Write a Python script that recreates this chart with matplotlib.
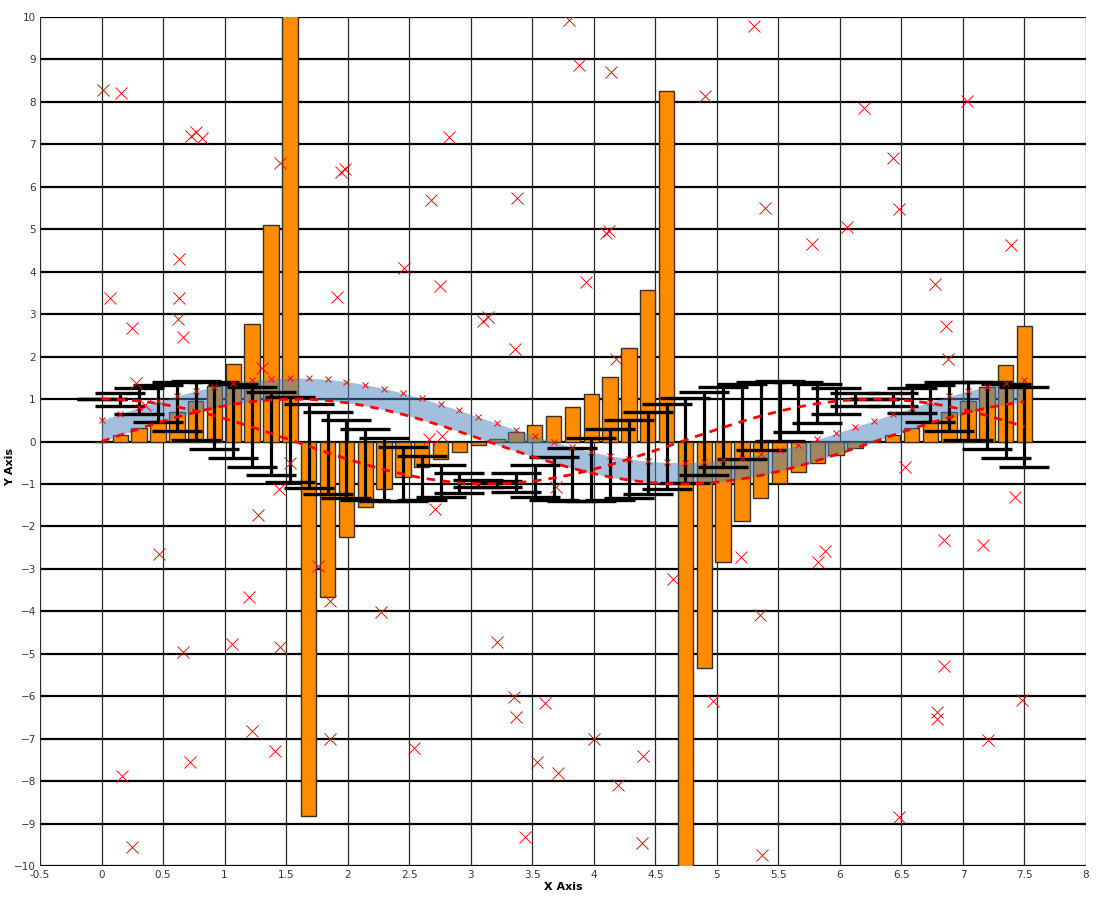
import matplotlib
matplotlib.use('Agg')
import matplotlib.pyplot as plt
import numpy as np

# sample positions (50 evenly spaced points from 0 to 7.5)
x_vals = [0.000, 0.153, 0.306, 0.459, 0.612, 0.765, 0.918, 1.071, 1.224, 1.378,
          1.531, 1.684, 1.837, 1.990, 2.143, 2.296, 2.449, 2.602, 2.755, 2.908,
          3.061, 3.214, 3.367, 3.520, 3.673, 3.827, 3.980, 4.133, 4.286, 4.439,
          4.592, 4.745, 4.898, 5.051, 5.204, 5.357, 5.510, 5.663, 5.816, 5.969,
          6.122, 6.276, 6.429, 6.582, 6.735, 6.888, 7.041, 7.194, 7.347, 7.500]

sin_vals = [0.000, 0.152, 0.301, 0.443, 0.575, 0.693, 0.795, 0.878, 0.940, 0.981,
            0.999, 0.994, 0.965, 0.913, 0.841, 0.748, 0.639, 0.514, 0.378, 0.231,
            0.080, -0.073, -0.224, -0.370, -0.507, -0.632, -0.744, -0.837, -0.910, -0.963,
            -0.993, -0.999, -0.983, -0.943, -0.882, -0.799, -0.698, -0.581, -0.450, -0.309,
            -0.160, -0.008, 0.145, 0.294, 0.436, 0.568, 0.687, 0.790, 0.874, 0.938]

cos_vals = [1.000, 0.988, 0.954, 0.896, 0.818, 0.721, 0.607, 0.479, 0.340, 0.192,
            0.040, -0.113, -0.263, -0.407, -0.541, -0.663, -0.769, -0.858, -0.926, -0.973,
            -0.997, -0.997, -0.975, -0.929, -0.862, -0.775, -0.669, -0.548, -0.414, -0.270,
            -0.120, 0.033, 0.185, 0.332, 0.472, 0.601, 0.716, 0.814, 0.893, 0.951,
            0.987, 1.000, 0.989, 0.956, 0.900, 0.823, 0.726, 0.613, 0.486, 0.347]

tan_vals = [0.00, 0.15, 0.32, 0.49, 0.70, 0.96, 1.31, 1.83, 2.76, 5.11,
            24.9, -8.82, -3.67, -2.25, -1.55, -1.13, -0.83, -0.60, -0.41, -0.24,
            -0.08, 0.07, 0.23, 0.40, 0.59, 0.82, 1.11, 1.53, 2.20, 3.56,
            8.26, -30.8, -5.33, -2.84, -1.87, -1.33, -0.98, -0.71, -0.50, -0.32,
            -0.16, -0.01, 0.15, 0.31, 0.48, 0.69, 0.95, 1.29, 1.80, 2.71]

band_offset = 0.5

# scattered points
scatter_x = [0.01, 0.16, 0.07, 0.25, 0.28, 0.35, 0.17, 0.25, 0.47, 0.63,
             0.63, 0.62, 0.66, 0.66, 0.73, 0.77, 0.82, 0.72, 1.06, 1.20,
             1.27, 1.22, 1.30, 1.41, 1.45, 1.45, 1.44, 1.53, 1.76, 1.86,
             1.86, 1.95, 1.98, 1.91, 2.27, 2.46, 2.54, 2.68, 2.75, 2.71,
             2.82, 2.66, 2.77, 3.10, 3.14, 3.21, 3.35, 3.37, 3.38, 3.36,
             3.44, 3.54, 3.60, 3.69, 3.71, 3.80, 3.88, 3.94, 4.00, 4.10,
             4.12, 4.14, 4.18, 4.20, 4.40, 4.39, 4.64, 4.90, 4.97, 5.20,
             5.30, 5.35, 5.39, 5.37, 5.77, 5.82, 5.88, 6.06, 6.20, 6.43,
             6.48, 6.53, 6.48, 6.77, 6.86, 6.88, 6.85, 6.85, 6.79, 6.79,
             7.03, 7.16, 7.20, 7.39, 7.42, 7.48]
scatter_y = [8.29, 8.22, 3.37, 2.67, 1.38, 0.85, -7.88, -9.56, -2.66, 4.31,
             3.37, 2.89, 2.47, -4.97, 7.20, 7.29, 7.15, -7.55, -4.77, -3.67,
             -1.74, -6.82, 1.72, -7.30, 6.55, -4.85, -1.13, -0.51, -2.93, -3.75,
             -7.02, 6.35, 6.43, 3.40, -4.02, 4.09, -7.22, 5.68, 3.66, -1.59,
             7.18, 0.07, 0.12, 2.85, 2.94, -4.73, -6.02, -6.49, 5.73, 2.17,
             -9.32, -7.54, -6.16, -1.08, -7.80, 9.93, 8.86, 3.75, -7.02, 4.91,
             4.97, 8.70, 1.95, -8.10, -7.41, -9.46, -3.25, 8.15, -6.12, -2.73,
             9.78, -4.09, 5.50, -9.73, 4.66, -2.83, -2.59, 5.06, 7.86, 6.69,
             5.47, -0.59, -8.85, 3.70, 2.71, 1.94, -2.33, -5.30, -6.38, -6.53,
             8.01, -2.43, -7.04, 4.64, -1.31, -6.09]

x_ticks = [-0.5, 0, 0.5, 1, 1.5, 2, 2.5, 3, 3.5, 4, 4.5, 5, 5.5, 6, 6.5, 7, 7.5, 8]
x_labels = ['-0.5', '0', '0.5', '1', '1.5', '2', '2.5', '3', '3.5', '4', '4.5',
            '5', '5.5', '6', '6.5', '7', '7.5', '8']
y_ticks = list(range(-10, 11))


def main():
    x = np.array(x_vals)
    s = np.array(sin_vals)
    c = np.array(cos_vals)

    fig = plt.figure(figsize=(11, 8.98), dpi=100)
    ax = fig.add_axes([40 / 1100, 32 / 898, 1046 / 1100, 849 / 898])

    # grid: horizontal lines heavier than vertical ones
    for yt in y_ticks:
        ax.axhline(yt, color='black', lw=1.6, zorder=0)
    for xt in x_ticks:
        ax.axvline(xt, color='#2a2a2a', lw=0.9, zorder=0)

    # tan bars
    ax.bar(x, tan_vals, width=0.125, color='#ff8c00', edgecolor='#3a3020',
           linewidth=1.0, zorder=2)

    # semi-transparent band between sin and sin + offset
    ax.fill_between(x, s, s + band_offset, color=(0.28, 0.51, 0.74),
                    alpha=0.5, linewidth=0, zorder=3)

    # cos with sin-sized error bars
    ax.errorbar(x, c, yerr=np.abs(s), fmt='none', ecolor='black',
                elinewidth=2.3, capsize=18, capthick=2.4, zorder=4)

    # dashed sin and cos lines
    ax.plot(x, s, color='red', lw=2.0, ls=(0, (3, 2.5)), zorder=5)
    ax.plot(x, c, color='red', lw=2.0, ls=(0, (3, 2.5)), zorder=5)

    # markers
    ax.plot(x, s + band_offset, ls='none', marker='x', ms=4.5, mew=0.7,
            color='red', zorder=6)
    ax.plot(scatter_x, scatter_y, ls='none', marker='x', ms=8.5, mew=0.65,
            color='red', zorder=6)

    ax.set_xlim(-0.5, 8)
    ax.set_ylim(-10, 10)
    ax.set_xticks(x_ticks)
    ax.set_xticklabels(x_labels)
    ax.set_yticks(y_ticks)
    ax.tick_params(length=0, labelsize=7.5, colors='#333333', pad=3)
    for sp in ax.spines.values():
        sp.set_visible(False)

    ax.set_xlabel('X Axis', fontsize=8, fontweight='bold', labelpad=1)
    ax.set_ylabel('Y Axis', fontsize=8, fontweight='bold')
    ax.yaxis.set_label_coords(-0.0235, 0.47)

    fig.savefig('out.png', dpi=100)


if __name__ == '__main__':
    main()
